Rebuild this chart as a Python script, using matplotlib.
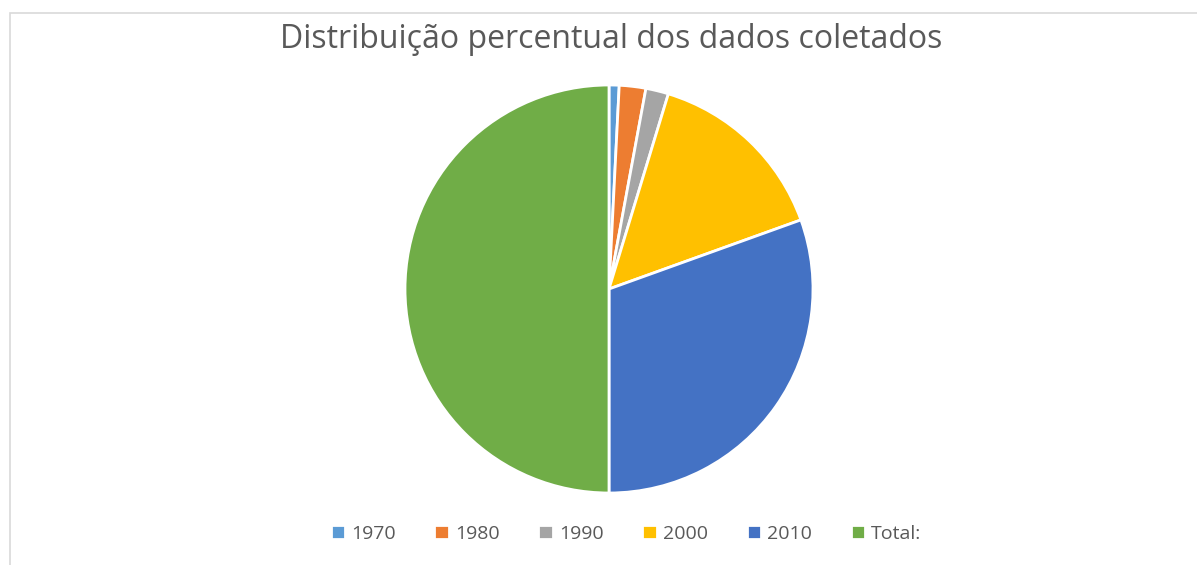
import matplotlib.pyplot as plt
from matplotlib.patches import Rectangle

# dados
anos = ["1970", "1980", "1990", "2000", "2010", "Total:"]
valores = [8, 21, 18, 148, 305, 500]
cores = ["#5B9BD5", "#ED7D31", "#A5A5A5", "#FFC000", "#4472C4", "#70AD47"]

W, H = 1197, 565
fig = plt.figure(figsize=(W / 100, H / 100), dpi=100)
fig.patch.set_facecolor("white")

# moldura clara do gráfico
fig.add_artist(Rectangle((10 / W, -0.01), 1.0, (H - 13) / H + 0.01,
                         transform=fig.transFigure, fill=False,
                         edgecolor="#d9d9d9", linewidth=1.2))

cx, cy, r = 609, H - 289, 204
ax = fig.add_axes([(cx - r) / W, (cy - r) / H, 2 * r / W, 2 * r / H])
wedges, _ = ax.pie(valores, colors=cores, startangle=90, counterclock=False,
                   radius=1.0,
                   wedgeprops=dict(edgecolor="white", linewidth=2))
ax.set_xlim(-1.0, 1.0)
ax.set_ylim(-1.0, 1.0)
ax.set_aspect("equal")
ax.axis("off")

fig.text(611 / W, 1 - 40 / H, "Distribuição percentual dos dados coletados",
         ha="center", va="center", fontsize=23, color="#595959",
         family="Open Sans")

fig.legend(wedges, anos, loc="center", bbox_to_anchor=(626 / W, 1 - 534 / H),
           ncol=6, frameon=False, handlelength=0.75, handleheight=0.75,
           handletextpad=0.3, columnspacing=2.0,
           prop=dict(family="Open Sans", size=14), labelcolor="#595959")

fig.savefig("out.png", dpi=100, facecolor="white")
